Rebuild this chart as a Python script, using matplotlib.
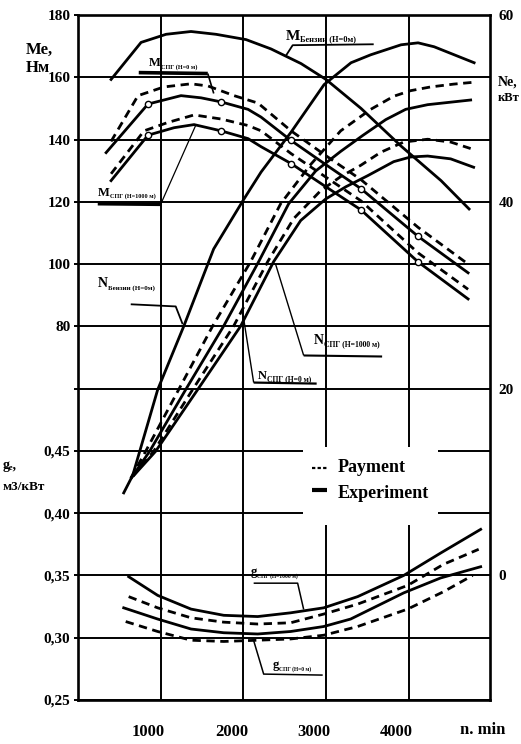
import matplotlib
matplotlib.use("Agg")
import matplotlib.pyplot as plt
from matplotlib.patches import Rectangle
from matplotlib.transforms import ScaledTranslation

plt.rcParams['font.family'] = ['Liberation Serif', 'DejaVu Serif']
plt.rcParams['font.weight'] = 'bold'

# ---------------- data ----------------
x_ticks = [1000, 2000, 3000, 4000]
x_tick_labels = ['1000', '2000', '3000', '4000']
torque_grid = [-40, -20, 0, 20, 40, 60, 80, 100, 120, 140, 160, 180]
torque_ticks = [80, 100, 120, 140, 160, 180]
g_ticks = [0.25, 0.30, 0.35, 0.40, 0.45]
g_tick_labels = ['0,25', '0,30', '0,35', '0,40', '0,45']
ne_ticks = [0, 20, 40, 60]

# torque, N*m
rpm_M_benz = [400, 763, 1065, 1367, 1670, 2033, 2335, 2698, 3000, 3424, 3908, 4392, 4731]
M_benz = [159.3, 171.2, 173.8, 174.7, 173.8, 172.1, 169.1, 164.4, 159.3, 150.0, 137.9, 126.8, 117.7]

rpm_M_h0_calc = [400, 726, 1040, 1367, 1573, 1888, 2178, 2577, 3000, 3424, 4114, 4719]
M_h0_calc = [139.4, 154.1, 156.9, 157.9, 157.2, 154.1, 151.7, 142.8, 134.8, 127.1, 111.8, 100.0]
rpm_M_h0_exp = [340, 847, 1246, 1488, 1730, 2057, 2215, 2577, 3000, 3424, 4114, 4719]
M_h0_exp = [135.8, 151.4, 154.1, 153.4, 152.1, 149.7, 147.2, 139.7, 131.9, 124.2, 108.9, 97.2]
rpm_M_h1000_calc = [400, 799, 1089, 1404, 1730, 2057, 2215, 2577, 3000, 3424, 4114, 4719]
M_h1000_calc = [129.0, 142.8, 145.5, 147.9, 146.6, 144.5, 142.8, 135.5, 127.9, 120.3, 103.6, 91.9]
rpm_M_h1000_exp = [400, 847, 1162, 1404, 1730, 2057, 2215, 2577, 3000, 3424, 4114, 4719]
M_h1000_exp = [126.8, 141.4, 143.8, 144.8, 142.8, 140.3, 137.7, 132.3, 124.8, 117.4, 100.7, 88.8]
rpm_test_points = [847, 1730, 2577, 3424, 4114]

# power, kW
rpm_N_benz = [553, 662, 964, 1279, 1641, 2009, 2215, 2577, 2977, 3303, 3541, 3908, 4114, 4308, 4792]
N_benz = [8.84, 10.72, 19.89, 26.67, 34.95, 40.32, 43.19, 47.45, 52.55, 54.89, 55.74, 56.81, 57.02, 56.60, 54.89]
rpm_N_h0_calc = [638, 819, 1218, 1629, 2089, 2452, 2815, 3178, 3541, 3819, 4024, 4266, 4544, 4786]
N_h0_calc = [10.4, 13.3, 19.9, 26.7, 33.6, 39.8, 44.0, 47.6, 49.9, 51.3, 51.9, 52.3, 52.6, 52.8]
rpm_N_h0_exp = [650, 867, 1303, 1762, 2186, 2549, 2875, 3178, 3444, 3723, 3964, 4230, 4750]
N_h0_exp = [10.5, 13.3, 19.9, 26.7, 33.6, 39.8, 43.3, 45.4, 47.1, 48.8, 49.9, 50.4, 50.9]
rpm_N_h1000_calc = [662, 916, 1387, 1883, 2295, 2609, 2936, 3178, 3419, 3662, 3940, 4230, 4508, 4750]
N_h1000_calc = [10.6, 13.3, 19.9, 26.7, 33.6, 38.2, 41.2, 42.7, 43.9, 45.3, 46.4, 46.7, 46.4, 45.7]
rpm_N_h1000_exp = [674, 940, 1448, 1968, 2367, 2694, 2996, 3238, 3505, 3819, 4024, 4230, 4508, 4786]
N_h1000_exp = [10.7, 13.3, 19.9, 26.7, 33.6, 38.0, 40.3, 41.6, 42.8, 44.3, 44.8, 44.9, 44.6, 43.7]

# specific consumption, m3/kWh
rpm_g_h1000_exp = [613, 964, 1367, 1763, 2174, 2572, 2972, 3383, 3940, 4387, 4871]
g_h1000_exp = [0.349, 0.334, 0.323, 0.318, 0.317, 0.320, 0.324, 0.333, 0.350, 0.368, 0.387]
rpm_g_h1000_calc = [613, 964, 1367, 1763, 2174, 2572, 2972, 3383, 3988, 4423, 4847]
g_h1000_calc = [0.333, 0.324, 0.316, 0.3125, 0.311, 0.312, 0.319, 0.327, 0.342, 0.359, 0.371]
rpm_g_h0_exp = [553, 964, 1367, 1763, 2174, 2572, 2972, 3298, 3940, 4387, 4871]
g_h0_exp = [0.324, 0.315, 0.307, 0.304, 0.303, 0.305, 0.309, 0.315, 0.336, 0.348, 0.357]
rpm_g_h0_calc = [577, 964, 1367, 1763, 2174, 2572, 2972, 3383, 3988, 4423, 4774]
g_h0_calc = [0.313, 0.305, 0.298, 0.297, 0.298, 0.299, 0.302, 0.309, 0.323, 0.337, 0.350]

# ---------------- figure ----------------
fig = plt.figure(figsize=(5.21, 7.44), dpi=100)
ax = fig.add_axes([78/521, 44/744, 412/521, 685/744])
ax.set_xlim(0, 4984)
ax.set_ylim(-40, 180)
axg = ax.twinx()
axg.set_ylim(0.25, 0.80)
axn = ax.twinx()
axn.set_ylim(-40/3, 60)

for a in (axg, axn):
    for s in a.spines.values():
        s.set_visible(False)
for s in ax.spines.values():
    s.set_linewidth(1.9)

for v in torque_grid:
    ax.axhline(v, color='black', lw=1.4, zorder=1)
for r in x_ticks:
    ax.axvline(r, color='black', lw=1.4, zorder=1)

# white legend area interrupting the grid
ax.add_patch(Rectangle((0.546, 0.2555), 0.328, 0.114, transform=ax.transAxes,
                       facecolor='white', edgecolor='none', zorder=1.5))

# ticks
ax.set_yticks(torque_grid, [str(v) if v in torque_ticks else '' for v in torque_grid])
ax.tick_params(axis='y', direction='out', length=3, width=1.4, pad=2.5, labelsize=11)
axg.yaxis.tick_left()
axg.set_yticks(g_ticks, g_tick_labels)
axg.tick_params(axis='y', length=0, pad=5.5, labelsize=11)
axn.set_yticks(ne_ticks, [str(v) for v in ne_ticks])
axn.tick_params(axis='y', length=0, pad=6, labelsize=11)
ax.set_xticks(x_ticks, x_tick_labels)
ax.tick_params(axis='x', length=0, pad=17, labelsize=12)
shift = ScaledTranslation(-0.12, 0, fig.dpi_scale_trans)
for lab in ax.get_xticklabels():
    lab.set_transform(lab.get_transform() + shift)
ax.text(0.983, -0.0438, 'n. min', transform=ax.transAxes, ha='center', va='center', fontsize=12)

LW = 2.0
DASH = (0, (3, 2))

def marks(rpm):
    return [i for i, r in enumerate(rpm) if r in rpm_test_points]

# torque curves
ax.plot(rpm_M_benz, M_benz, color='k', lw=LW, zorder=3)
ax.plot(rpm_M_h0_calc, M_h0_calc, color='k', lw=LW, ls=DASH, zorder=3)
ax.plot(rpm_M_h0_exp, M_h0_exp, color='k', lw=LW, zorder=3, marker='o', ms=4.5,
        mfc='white', mec='k', mew=1.0, markevery=marks(rpm_M_h0_exp))
ax.plot(rpm_M_h1000_calc, M_h1000_calc, color='k', lw=LW, ls=DASH, zorder=3)
ax.plot(rpm_M_h1000_exp, M_h1000_exp, color='k', lw=LW, zorder=3, marker='o', ms=4.5,
        mfc='white', mec='k', mew=1.0, markevery=marks(rpm_M_h1000_exp))

# power curves
axn.plot(rpm_N_benz, N_benz, color='k', lw=LW)
axn.plot(rpm_N_h0_calc, N_h0_calc, color='k', lw=LW, ls=DASH)
axn.plot(rpm_N_h0_exp, N_h0_exp, color='k', lw=LW)
axn.plot(rpm_N_h1000_calc, N_h1000_calc, color='k', lw=LW, ls=DASH)
axn.plot(rpm_N_h1000_exp, N_h1000_exp, color='k', lw=LW)

# consumption curves
axg.plot(rpm_g_h1000_exp, g_h1000_exp, color='k', lw=LW)
axg.plot(rpm_g_h1000_calc, g_h1000_calc, color='k', lw=LW, ls=DASH)
axg.plot(rpm_g_h0_exp, g_h0_exp, color='k', lw=LW)
axg.plot(rpm_g_h0_calc, g_h0_calc, color='k', lw=LW, ls=DASH)

# ---------------- labels with leaders ----------------
def sublabel(axis, x, y, main, sub, size, subsize, gap):
    axis.text(x, y, main, fontsize=size, ha='left', va='baseline', zorder=5)
    axis.annotate(sub, xy=(x, y), xytext=(gap, -1.5), textcoords='offset points',
                  fontsize=subsize, ha='left', va='baseline', zorder=5)

def leader(axis, xs, ys, lw):
    axis.plot(xs, ys, color='k', lw=lw, solid_capstyle='butt', zorder=4)

sublabel(ax, 853, 163.5, 'M', 'СПГ (Н=0 м)', 9, 4.5, 9)
leader(ax, [735, 1570], [161.5, 161.2], 2.6)
leader(ax, [1570, 1642], [161.2, 154.8], 1.2)

sublabel(ax, 239, 121.9, 'M', 'СПГ (Н=1000 м)', 9, 4.5, 9)
leader(ax, [239, 1000], [119.4, 119.2], 2.6)
leader(ax, [1000, 1423], [119.2, 144.5], 0.9)

sublabel(ax, 2512, 172.1, 'M', 'Бензин (Н=0м)', 11, 6, 10.5)
leader(ax, [2512, 2597, 3577], [166.8, 170.3, 170.6], 1.3)

sublabel(axn, 239, 30.86, 'N', 'Бензин (Н=0м)', 10, 5, 7.5)
leader(axn, [638, 1182, 1266], [29.03, 28.8, 26.9], 1.3)

sublabel(axn, 2850, 24.73, 'N', 'СПГ (Н=1000 м)', 10, 5.5, 7.5)
leader(axn, [2390, 2730], [33.33, 23.55], 1.0)
leader(axn, [2730, 3679], [23.55, 23.44], 1.5)

sublabel(axn, 2173, 21.07, 'N', 'СПГ (Н=0 м)', 9, 5.5, 7)
leader(axn, [1992, 2125], [28.17, 20.65], 1.0)
leader(axn, [2125, 2887], [20.65, 20.54], 1.6)

sublabel(axg, 2089, 0.350, 'g', 'СПГ (Н=1000 м)', 9, 4, 4.5)
leader(axg, [2125, 2657, 2730], [0.3438, 0.3438, 0.3227], 1.1)

sublabel(axg, 2355, 0.2754, 'g', 'СПГ (Н=0 м)', 9, 4, 4.5)
leader(axg, [2125, 2246, 2960], [0.2977, 0.2708, 0.2700], 1.1)

# legend
ax.plot([0.568, 0.607], [0.3387, 0.3387], transform=ax.transAxes, color='k', lw=1.6,
        ls=(0, (1.5, 1)), zorder=4)
ax.plot([0.568, 0.605], [0.3066, 0.3066], transform=ax.transAxes, color='k', lw=3,
        zorder=4, solid_capstyle='butt')
ax.text(0.631, 0.3387, 'Payment', transform=ax.transAxes, fontsize=13, va='center', ha='left', zorder=4)
ax.text(0.631, 0.302, 'Experiment', transform=ax.transAxes, fontsize=13, va='center', ha='left', zorder=4)

# axis titles
fig.text(26/521, 1 - 50/744, 'Me,', fontsize=12, va='center', ha='left')
fig.text(26/521, 1 - 68/744, 'Нм', fontsize=12, va='center', ha='left')
fig.text(498/521, 1 - 82/744, 'Ne,', fontsize=10, va='center', ha='left')
fig.text(498/521, 1 - 98/744, 'кВт', fontsize=9, va='center', ha='left')
fig.text(3/521, 1 - 466/744, 'gₑ,', fontsize=10, va='center', ha='left')
fig.text(3/521, 1 - 487/744, 'м3/кВт', fontsize=9.5, va='center', ha='left')

fig.savefig('out.png', dpi=100, facecolor='white')
